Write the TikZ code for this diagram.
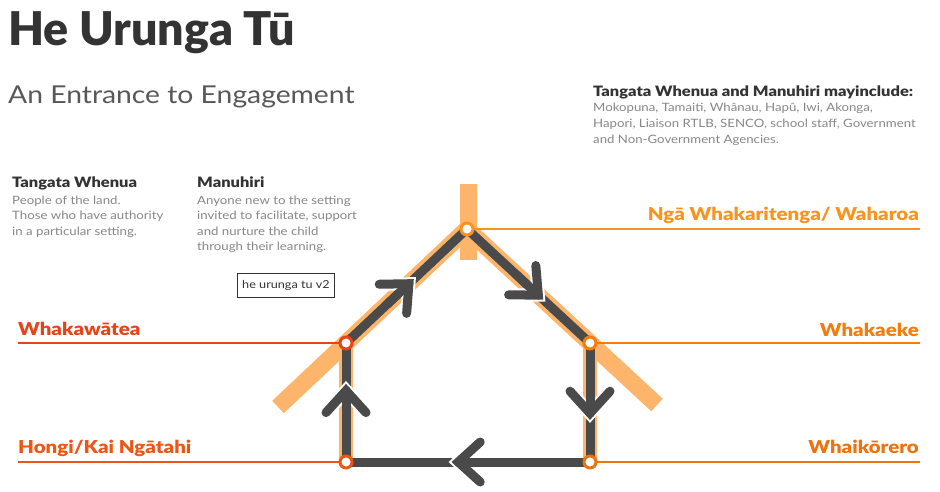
\documentclass[tikz,border=0pt]{standalone}
\usepackage{fontspec}
\setmainfont[FakeStretch=1.15, BoldFont={Lato Black}]{Lato}
\newfontfamily\titlefont[BoldFont={Lato Black}]{Lato}
\usetikzlibrary{decorations.markings}
\definecolor{bandorange}{RGB}{253,181,108}
\definecolor{trackgrey}{RGB}{74,74,74}
\definecolor{titlegrey}{RGB}{51,51,51}
\definecolor{subgrey}{RGB}{88,88,88}
\definecolor{blurbgrey}{RGB}{135,135,135}
\definecolor{wateared}{RGB}{232,66,24}
\definecolor{hongired}{RGB}{236,86,20}
\definecolor{ekeorange}{RGB}{245,124,8}
\definecolor{kororange}{RGB}{238,114,14}
\definecolor{waharoaorange}{RGB}{248,148,30}
\newcommand{\chevron}{%
  \draw[white, line width=13pt] (-22pt,20pt) -- (0pt,0pt) -- (-22pt,-20pt);
  \draw[trackgrey, line width=9pt] (0pt,0pt) -- (-30pt,0pt);
  \draw[trackgrey, line width=9pt, line cap=round] (-22pt,20pt) -- (0pt,0pt) -- (-22pt,-20pt);}
\tikzset{%
  band/.style      = {line width=17pt, draw=bandorange},%
  track/.style     = {line width=9pt, draw=trackgrey, line cap=round},%
  chev/.style      = {postaction=decorate,%
                      decoration={markings, mark=at position #1 with {\chevron}}},%
  waypoint/.style  = {circle, draw=#1, fill=white, line width=3pt,%
                      minimum size=12pt, inner sep=0pt},%
  lead/.style      = {line width=2.5pt, draw=#1},%
  stagename/.style = {font=\fontsize{17.8}{20}\selectfont\bfseries, text=#1, inner sep=0pt},%
  heading/.style   = {font=\fontsize{14.3}{16}\selectfont\bfseries, text=titlegrey, inner sep=0pt},%
  blurb/.style     = {font=\fontsize{11.5}{15.5}\selectfont, text=blurbgrey, align=left, inner sep=0pt}%
}
\begin{document}
\begin{tikzpicture}[x=1pt,y=-1pt]
\useasboundingbox (0,0) rectangle (940,491);
\coordinate (hongi)   at (346,462);
\coordinate (watea)   at (346,343);
\coordinate (waharoa) at (467,229);
\coordinate (eke)     at (590,343);
\coordinate (korero)  at (590,462);
\coordinate (roofL)   at (278,407);
\coordinate (roofR)   at (657,405);
\coordinate (hongiL)  at (18,462);
\coordinate (wateaL)  at (18,343);
\coordinate (waharoaR) at (920,229);
\coordinate (ekeR)    at (920,343);
\coordinate (koreroR) at (920,462);

\node[anchor=base west, font=\titlefont\fontsize{46.5}{50}\selectfont\bfseries, text=titlegrey, inner sep=0pt] (title) at (8,45) {He Urunga Tū};
\node[anchor=base west, font=\fontsize{24.6}{28}\selectfont, text=subgrey, inner sep=0pt] (subtitle) at (8,103) {An Entrance to Engagement};

\node[heading, anchor=base west] (mayhead) at (593,96) {Tangata Whenua and Manuhiri mayinclude:};
\node[blurb, font=\fontsize{11.5}{16}\selectfont, anchor=base west] (maybody) at (593,143) {Mokopuna, Tamaiti, Whânau, Hapû, Iwi, Akonga,\\Hapori, Liaison RTLB, SENCO, school staff, Government\\and Non-Government Agencies.};

\node[heading, anchor=base west] (twhead) at (12,187) {Tangata Whenua};
\node[blurb, anchor=base west] (twbody) at (12,235) {People of the land.\\Those who have authority\\in a particular setting.};
\node[heading, anchor=base west] (mhead) at (197,187) {Manuhiri};
\node[blurb, anchor=base west] (mbody) at (197,250.5) {Anyone new to the setting\\invited to facilitate, support\\and nurture the child\\through their learning.};

\node[draw=titlegrey, line width=0.8pt, minimum width=97pt, minimum height=24pt, font=\fontsize{11}{12}\selectfont, text=titlegrey] (tag) at (286,285.5) {he urunga tu v2};

\fill[bandorange] (460,184) rectangle (477,260);
\draw[band] (roofL) -- (waharoa) -- (roofR);
\draw[band, line width=14pt] (watea) -- (hongi);
\draw[band, line width=14pt] (eke) -- (korero);

\draw[track, chev=0.6]  (hongi) -- (watea);
\draw[track, chev=0.52] (watea) -- (waharoa);
\draw[track, chev=0.58] (waharoa) -- (eke);
\draw[track, chev=0.59] (eke) -- (korero);
\draw[track, chev=0.54] (korero) -- (hongi);

\draw[lead=wateared]      (wateaL) -- (watea);
\draw[lead=hongired]      (hongiL) -- (hongi);
\draw[lead=waharoaorange] (waharoa) -- (waharoaR);
\draw[lead=ekeorange]     (eke) -- (ekeR);
\draw[lead=kororange]     (korero) -- (koreroR);

\node[waypoint=wateared]      (n1) at (watea) {};
\node[waypoint=hongired]      (n2) at (hongi) {};
\node[waypoint=waharoaorange] (n3) at (waharoa) {};
\node[waypoint=ekeorange]     (n4) at (eke) {};
\node[waypoint=kororange]     (n5) at (korero) {};

\node[stagename=wateared, anchor=base west] at (18,335) {Whakawātea};
\node[stagename=hongired, anchor=base west] at (18,453) {Hongi/Kai Ngātahi};
\node[stagename=waharoaorange, anchor=base east] at (919,220) {Ngā Whakaritenga/ Waharoa};
\node[stagename=ekeorange, anchor=base east] at (919,336) {Whakaeke};
\node[stagename=kororange, anchor=base east] at (919,453) {Whaikōrero};
\end{tikzpicture}
\end{document}
